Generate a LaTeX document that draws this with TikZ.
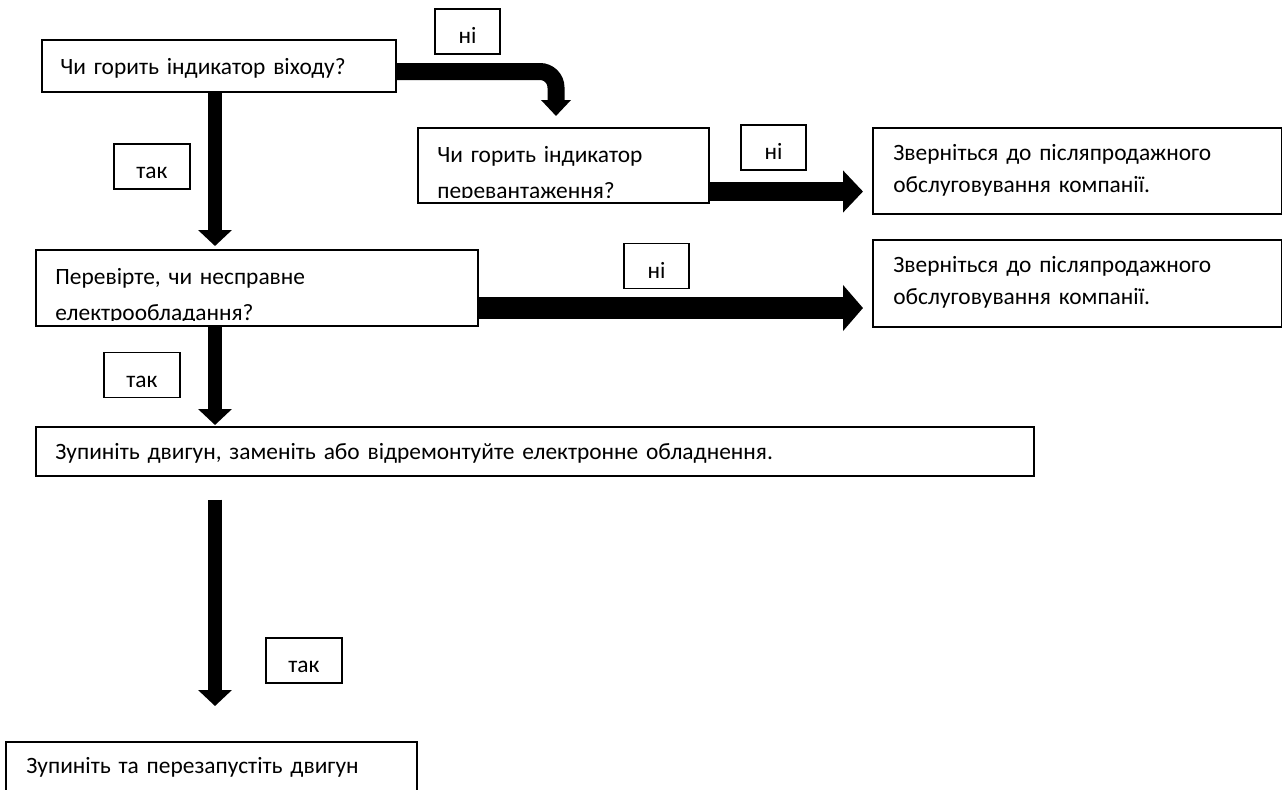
\documentclass[tikz,border=0pt]{standalone}
\usepackage{fontspec}
\setmainfont{Carlito}
\usetikzlibrary{arrows.meta}
\tikzset{box/.style={draw, line width=0.75pt, anchor=north west, inner sep=0pt}}
\tikzset{txt/.style={anchor=base west, inner sep=0pt, text width=420pt, align=left, font=\fontsize{11.7}{18}\selectfont}}
\tikzset{lbl/.style={draw, line width=0.75pt, inner sep=0pt, minimum height=22.5pt, text height=12pt, text depth=0pt, font=\fontsize{11.7}{13}\selectfont}}
\tikzset{downarr/.style={line width=7pt, -{Triangle[width=16.5pt,length=8pt]}}}
\tikzset{sidearr/.style 2 args={line width=#1, -{Triangle[width=#2,length=10pt]}}}
\tikzset{bendarr/.style={line width=8.5pt, rounded corners=8pt, -{Triangle[width=14.5pt,length=8pt]}}}

\begin{document}
\begin{tikzpicture}[x=0.5pt,y=-0.5pt]
  \useasboundingbox (0,0) rectangle (1282,789);
  % boxes
  \node[box, minimum width=177pt, minimum height=26pt] (B1) at (41,39) {};
  \node[txt] (B1t) at (60,74) {Чи горить індикатор віходу?};
  \node[box, minimum width=145.5pt, minimum height=37.5pt] (B2) at (417,127) {};
  \begin{scope}
    \clip (B2.north west) rectangle ([yshift=3pt]B2.south east);
    \node[txt] (B2t) at (437,162) {Чи горить індикатор\\перевантаження?};
  \end{scope}
  \node[box, minimum width=204.5pt, minimum height=43pt] (R1) at (872,127) {};
  \node[txt, font=\fontsize{11.7}{16}\selectfont] (R1t) at (893,160) {Зверніться до післяпродажного\\обслуговування компанії.};
  \node[box, minimum width=221pt, minimum height=38pt] (B3) at (35,249) {};
  \begin{scope}
    \clip (B3.north west) rectangle ([yshift=3pt]B3.south east);
    \node[txt] (B3t) at (55,284) {Перевірте, чи несправне\\електрообладання?};
  \end{scope}
  \node[box, minimum width=204.5pt, minimum height=43.5pt] (R2) at (872,239) {};
  \node[txt, font=\fontsize{11.7}{16}\selectfont] (R2t) at (893,272) {Зверніться до післяпродажного\\обслуговування компанії.};
  \node[box, minimum width=499pt, minimum height=24.5pt] (B4) at (35,426) {};
  \node[txt] (B4t) at (55,459) {Зупиніть двигун, заменіть або відремонтуйте електронне обладнення.};
  \node[box, minimum width=205.5pt, minimum height=30pt] (B5) at (5,741) {};
  \node[txt] (B5t) at (26,773) {Зупиніть та перезапустіть двигун};
  % labels
  \node[lbl, minimum width=32.5pt] (n1) at (467.5,31.5) {ні};
  \node[lbl, minimum width=38pt] (t1) at (152,166.5) {так};
  \node[lbl, minimum width=32.5pt] (n2) at (773.5,147.5) {ні};
  \node[lbl, minimum width=32.5pt] (n3) at (656.5,266) {ні};
  \node[lbl, minimum width=38pt] (t2) at (142,375) {так};
  \node[lbl, minimum width=38pt] (t3) at (304,660.5) {так};
  % arrows
  \coordinate (col) at (215,0);
  \coordinate (col2) at (556,0);
  \coordinate (row0) at (0,71.5);
  \coordinate (row1) at (0,191.5);
  \coordinate (row2) at (0,308);
  \draw[bendarr, shorten >=5.5pt] (B1.east |- row0) -| (B2.north -| col2);
  \draw[downarr, shorten >=1.5pt] (B1.south -| col) -- (B3.north -| col);
  \draw[sidearr={9.5pt}{20.5pt}, shorten >=4.5pt] (B2.east |- row1) -- (R1.west |- row1);
  \draw[sidearr={11pt}{22.5pt}, shorten >=4.5pt] (B3.east |- row2) -- (R2.west |- row2);
  \draw[downarr, shorten >=0.5pt] (B3.south -| col) -- (B4.north -| col);
  \draw[downarr, shorten <=11.5pt, shorten >=17.5pt] (B4.south -| col) -- (B5.north -| col);
\end{tikzpicture}
\end{document}
